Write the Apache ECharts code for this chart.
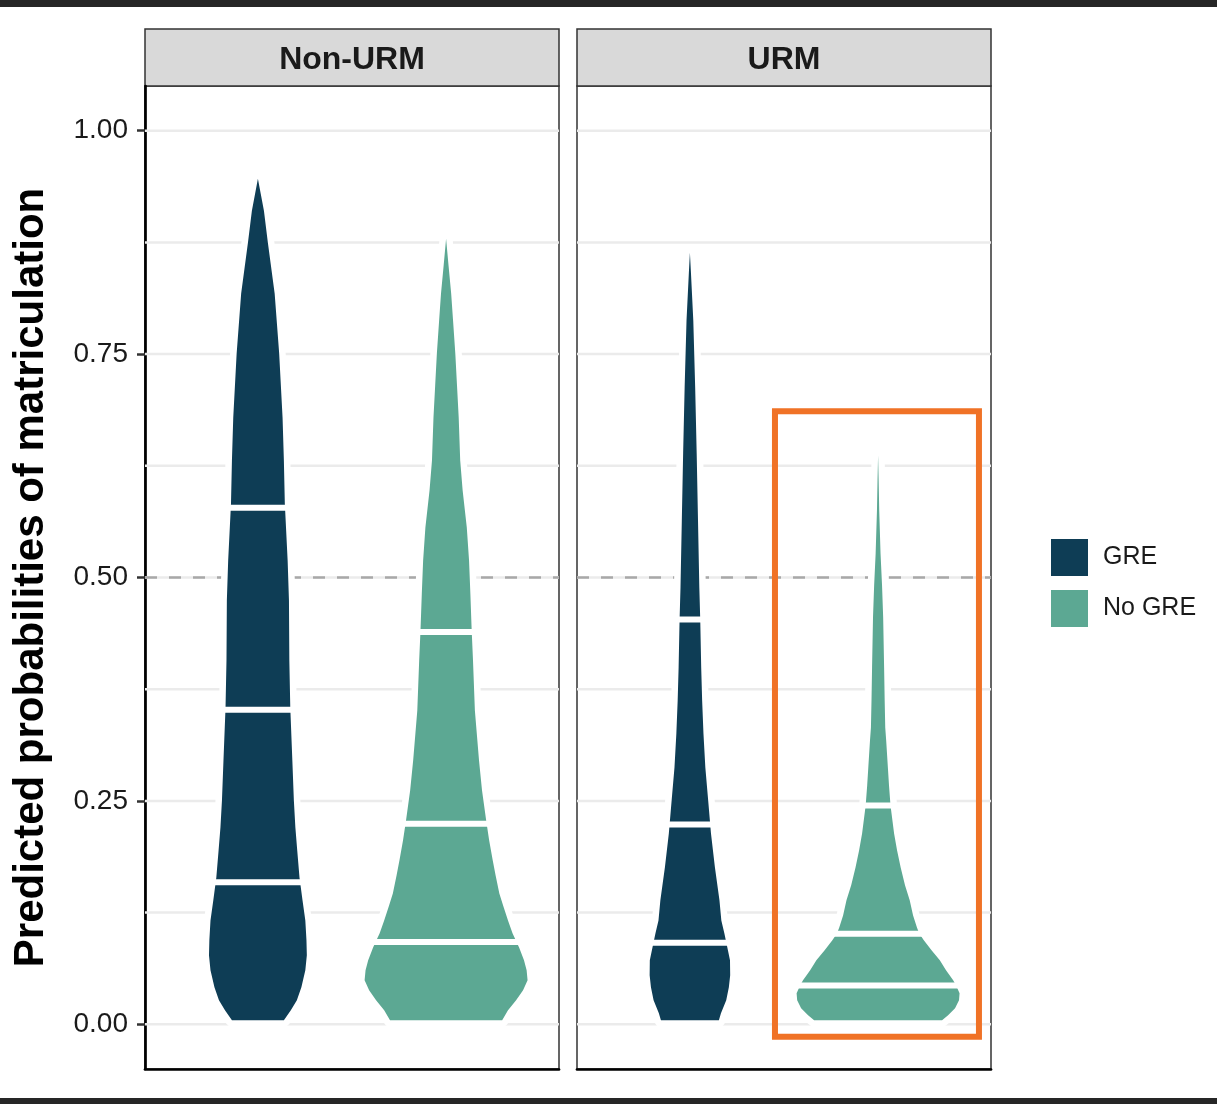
<!DOCTYPE html>
<html><head><meta charset="utf-8">
<script src="https://cdn.jsdelivr.net/npm/echarts@6/dist/echarts.min.js"></script>
<style>html,body{margin:0;padding:0;background:#fff}#chart{width:1217px;height:1104px}</style>
</head><body><div id="chart"></div>
<script>
// ---------- data ----------
const panels = ['Non-URM', 'URM'];
const groups = ['GRE', 'No GRE'];
const groupPos = [1, 2];
const yTicks = [0, 0.25, 0.5, 0.75, 1];
const gridValues = [0, 0.125, 0.25, 0.375, 0.5, 0.625, 0.75, 0.875, 1];
const refLine = 0.5;

// violin profiles: Y = predicted probability, W = half width (in category units)
const greNonUrmY = [0.0045,0.0157,0.0268,0.0414,0.0604,0.0772,0.094,0.1163,0.1387,0.1644,0.1946,0.2204,0.2506,0.2953,0.3546,0.4072,0.4743,0.519,0.5828,0.6309,0.679,0.7506,0.8177,0.8747,0.9105,0.9295,0.9463];
const greNonUrmW = [0.138,0.175,0.207,0.231,0.252,0.260,0.258,0.252,0.237,0.221,0.209,0.199,0.191,0.183,0.172,0.167,0.165,0.158,0.143,0.138,0.131,0.113,0.089,0.053,0.032,0.015,0];
const greNonUrmQ = [0.159, 0.352, 0.578];

const noGreNonUrmY = [0.0045,0.0157,0.0268,0.038,0.0492,0.0604,0.0716,0.0861,0.1018,0.1163,0.1331,0.1465,0.1667,0.1834,0.2058,0.2282,0.2617,0.2953,0.3512,0.4072,0.4407,0.4821,0.519,0.5559,0.5973,0.6309,0.679,0.7148,0.7506,0.7875,0.8177,0.849,0.8792];
const noGreNonUrmW = [0.298,0.329,0.372,0.409,0.433,0.428,0.414,0.388,0.353,0.329,0.303,0.283,0.263,0.248,0.229,0.213,0.191,0.175,0.153,0.143,0.136,0.129,0.122,0.110,0.088,0.075,0.067,0.058,0.049,0.037,0.027,0.013,0];
const noGreNonUrmQ = [0.092, 0.2245, 0.439];

const greUrmY = [0.0045,0.0123,0.0268,0.0414,0.0548,0.0716,0.0828,0.1018,0.1163,0.1387,0.1756,0.2136,0.2506,0.2875,0.3255,0.3624,0.3993,0.4519,0.4888,0.5638,0.6387,0.7125,0.7875,0.8434,0.8635];
const greUrmW = [0.154,0.165,0.193,0.207,0.214,0.213,0.202,0.183,0.167,0.157,0.133,0.112,0.097,0.082,0.072,0.065,0.060,0.055,0.050,0.043,0.036,0.028,0.018,0.005,0];
const greUrmQ = [0.0914, 0.2237, 0.453];

const noGreUrmY = [0.0045,0.0101,0.0179,0.0268,0.0347,0.0436,0.0492,0.0604,0.0716,0.0828,0.094,0.1018,0.1085,0.1219,0.1387,0.1555,0.1756,0.1946,0.2136,0.245,0.2673,0.2875,0.3177,0.3322,0.3624,0.3993,0.4553,0.4911,0.5268,0.575,0.6085,0.6365];
const noGreUrmW = [0.340,0.372,0.409,0.430,0.433,0.414,0.399,0.361,0.328,0.284,0.243,0.218,0.206,0.186,0.168,0.143,0.120,0.101,0.085,0.066,0.058,0.052,0.043,0.038,0.035,0.032,0.027,0.021,0.013,0.006,0.003,0];
const noGreUrmQ = [0.0433, 0.1014, 0.245];

// highlight box around URM / No GRE: [x1, yTop, x2, yBottom]
const highlightBox = [1.452, 0.686, 2.536, -0.014];

// ---------- styles ----------
const COLORS = { 'GRE': '#0e3d55', 'No GRE': '#5ca893' };
const FONT = 'Liberation Sans, Arial, Helvetica, sans-serif';
const GRID_W = 414, GRID_TOP = 86, GRID_H = 983;
const GRID_LEFT = [145, 577];

const violins = [
  { panel: 0, group: 'GRE', pos: groupPos[0], y: greNonUrmY, w: greNonUrmW, q: greNonUrmQ },
  { panel: 0, group: 'No GRE', pos: groupPos[1], y: noGreNonUrmY, w: noGreNonUrmW, q: noGreNonUrmQ },
  { panel: 1, group: 'GRE', pos: groupPos[0], y: greUrmY, w: greUrmW, q: greUrmQ },
  { panel: 1, group: 'No GRE', pos: groupPos[1], y: noGreUrmY, w: noGreUrmW, q: noGreUrmQ }
];

function interp(ys, ws, v) {
  for (let i = 0; i < ys.length - 1; i++) {
    if (v >= ys[i] && v <= ys[i + 1]) {
      const t = (v - ys[i]) / (ys[i + 1] - ys[i]);
      return ws[i] + t * (ws[i + 1] - ws[i]);
    }
  }
  return 0;
}

const chart = echarts.init(document.getElementById('chart'), null, { renderer: 'canvas' });

const grids = [], xAxes = [], yAxes = [], series = [];
panels.forEach((p, i) => {
  grids.push({ left: GRID_LEFT[i], top: GRID_TOP, width: GRID_W, height: GRID_H,
    show: true, borderColor: '#333', borderWidth: 1.5, backgroundColor: 'transparent' });
  xAxes.push({ type: 'value', gridIndex: i, min: 0.4, max: 2.6, position: 'bottom',
    axisLine: { show: true, onZero: false, lineStyle: { color: '#000', width: 2.7 } },
    axisTick: { show: false }, axisLabel: { show: false }, splitLine: { show: false } });
  yAxes.push({ type: 'value', gridIndex: i, min: -0.05, max: 1.05,
    axisLine: { show: i === 0, lineStyle: { color: '#000', width: 2.7 } },
    axisTick: { show: i === 0, customValues: yTicks, length: 8, lineStyle: { color: '#333', width: 2.5 } },
    axisLabel: { show: i === 0, customValues: yTicks, margin: 17, fontSize: 28, color: '#1a1a1a',
      fontFamily: FONT, padding: [6, 0, 0, 0], formatter: v => Number(v).toFixed(2) },
    splitLine: { show: false } });

  // background grid lines
  series.push({ type: 'custom', xAxisIndex: i, yAxisIndex: i, silent: true, z: 1, clip: false,
    data: gridValues.map(v => [v]),
    renderItem: (params, api) => {
      const v = api.value(0);
      const a = api.coord([0.4, v]), b = api.coord([2.6, v]);
      return { type: 'line', shape: { x1: a[0], y1: a[1], x2: b[0], y2: b[1] },
        style: { stroke: '#ebebeb', lineWidth: 2.5 } };
    } });
  // dashed reference line
  series.push({ type: 'custom', xAxisIndex: i, yAxisIndex: i, silent: true, z: 2, clip: false,
    data: [[refLine]],
    renderItem: (params, api) => {
      const v = api.value(0);
      const a = api.coord([0.4, v]), b = api.coord([2.6, v]);
      return { type: 'line', shape: { x1: a[0], y1: a[1], x2: b[0], y2: b[1] },
        style: { stroke: '#a8a8a8', lineWidth: 2.5, lineDash: [12, 12] } };
    } });
});

violins.forEach(vd => {
  series.push({
    type: 'custom', name: vd.group, xAxisIndex: vd.panel, yAxisIndex: vd.panel, z: 3, clip: false,
    itemStyle: { color: COLORS[vd.group] },
    data: [[vd.pos]],
    renderItem: (params, api) => {
      const x = api.value(0);
      const right = vd.y.map((y, k) => api.coord([x + vd.w[k], y]));
      const left = vd.y.map((y, k) => api.coord([x - vd.w[k], y])).reverse();
      const pts = right.concat(left);
      const children = [
        { type: 'polygon', shape: { points: pts }, style: { fill: 'none', stroke: '#fff', lineWidth: 13, lineJoin: 'round' } },
        { type: 'polygon', shape: { points: pts }, style: { fill: COLORS[vd.group] } }
      ];
      vd.q.forEach(q => {
        const w = interp(vd.y, vd.w, q) + 0.02;
        const a = api.coord([x - w, q]), b = api.coord([x + w, q]);
        children.push({ type: 'line', shape: { x1: a[0], y1: a[1], x2: b[0], y2: b[1] },
          style: { stroke: '#fff', lineWidth: 6 } });
      });
      return { type: 'group', children };
    }
  });
});

// highlight box
series.push({ type: 'custom', xAxisIndex: 1, yAxisIndex: 1, silent: true, z: 5, clip: false,
  data: [highlightBox],
  renderItem: (params, api) => {
    const a = api.coord([api.value(0), api.value(1)]);
    const b = api.coord([api.value(2), api.value(3)]);
    return { type: 'rect', shape: { x: a[0], y: a[1], width: b[0] - a[0], height: b[1] - a[1] },
      style: { fill: 'none', stroke: '#f07226', lineWidth: 6 } };
  } });

const graphics = [
  { type: 'rect', shape: { x: 0, y: 0, width: 1217, height: 7 }, style: { fill: '#262626' } },
  { type: 'rect', shape: { x: 0, y: 1098, width: 1217, height: 6 }, style: { fill: '#262626' } },
  { type: 'text', x: 31, y: (GRID_TOP + GRID_TOP + GRID_H) / 2, rotation: Math.PI / 2,
    style: { text: 'Predicted probabilities of matriculation', font: 'bold 42px ' + FONT,
      fill: '#000', align: 'center', verticalAlign: 'middle' } }
];
panels.forEach((p, i) => {
  graphics.push({ type: 'rect', shape: { x: GRID_LEFT[i], y: 29, width: GRID_W, height: GRID_TOP - 29 },
    style: { fill: '#d9d9d9', stroke: '#333', lineWidth: 1.5 } });
  graphics.push({ type: 'text', x: GRID_LEFT[i] + GRID_W / 2, y: (29 + GRID_TOP) / 2 + 3,
    style: { text: p, font: 'bold 32px ' + FONT, fill: '#1a1a1a', align: 'center', verticalAlign: 'middle' } });
});

chart.setOption({
  animation: false,
  backgroundColor: '#fff',
  grid: grids, xAxis: xAxes, yAxis: yAxes, series,
  legend: { data: groups, orient: 'vertical', left: 1051, top: 539, padding: 0, itemWidth: 37, itemHeight: 37,
    itemGap: 14, icon: 'rect', selectedMode: false,
    textStyle: { fontSize: 25, color: '#1a1a1a', fontFamily: FONT, padding: [6, 0, 0, 10] } },
  graphic: graphics
});
</script></body></html>
